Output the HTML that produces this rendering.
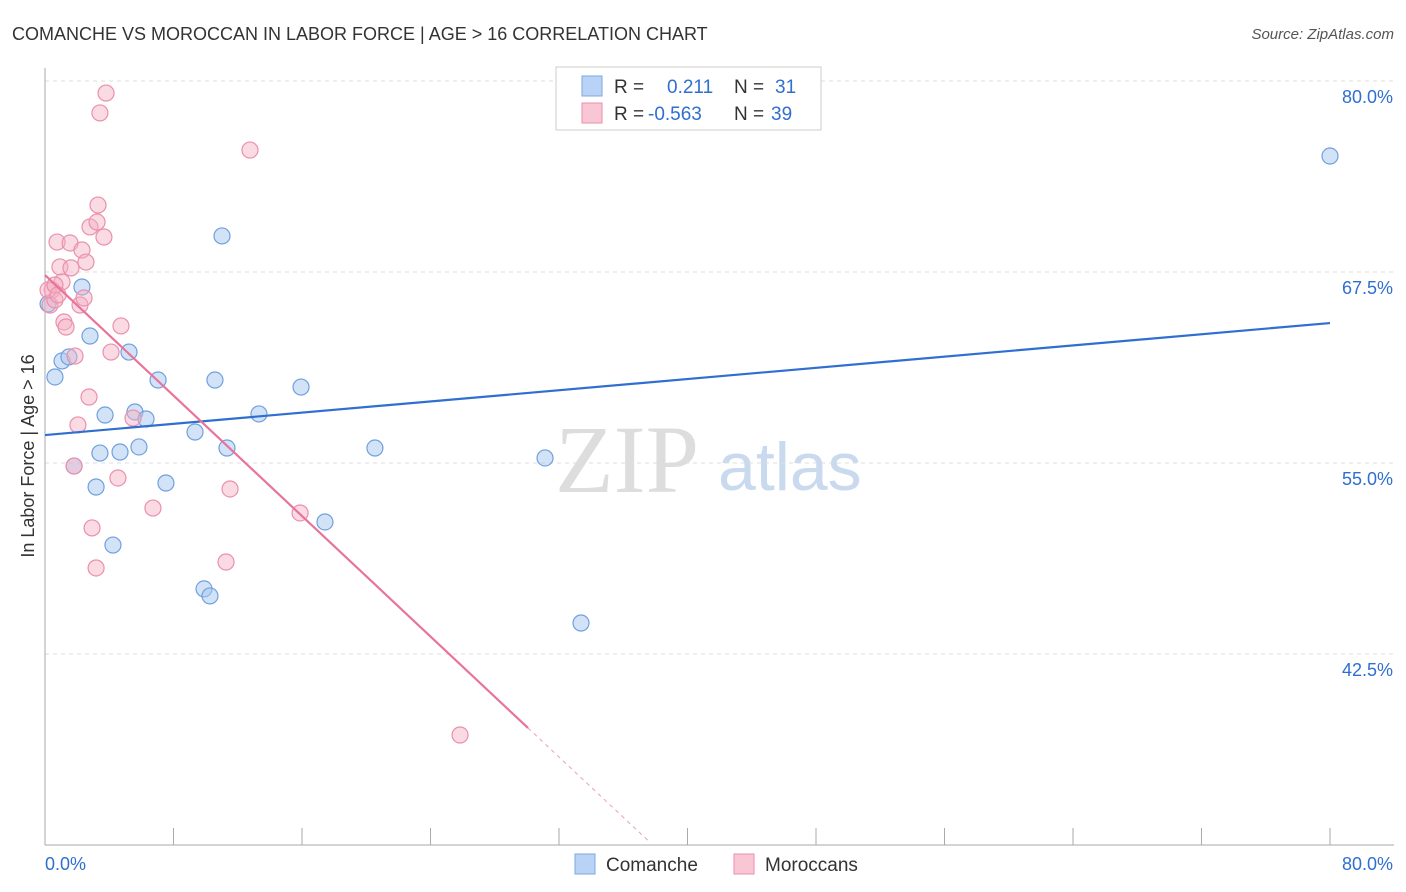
<!DOCTYPE html>
<html><head><meta charset="utf-8"><style>
body{margin:0;background:#fff;font-family:"Liberation Sans",sans-serif;}
svg{display:block}
</style></head><body>
<svg id="c" width="1406" height="892" xmlns="http://www.w3.org/2000/svg">
<text x="12" y="40" font-size="18" fill="#333">COMANCHE VS MOROCCAN IN LABOR FORCE | AGE &gt; 16 CORRELATION CHART</text>
<text x="1394" y="39" font-size="15" fill="#555" font-style="italic" text-anchor="end">Source: ZipAtlas.com</text>
<text x="34" y="456" font-size="18" fill="#333" text-anchor="middle" transform="rotate(-90 34 456)">In Labor Force | Age &gt; 16</text>
<text x="555" y="492" font-size="96" fill="#ddd" font-family="Liberation Serif,serif">ZIP</text>
<text x="718" y="490" font-size="68" fill="#c9d9ee">atlas</text>
<g id="grid"></g><g id="pts"></g><g id="lines"></g>
<rect x="556" y="67" width="265" height="63" fill="#fff" stroke="#ccc"/>
<rect x="582" y="76" width="20" height="20" fill="#b8d3f5" stroke="#7aaae0"/>
<rect x="582" y="103" width="20" height="20" fill="#f9c6d5" stroke="#eb8fac"/>
<text x="614" y="93" font-size="19" fill="#333">R = <tspan fill="#2f6fd0" x="667">0.211</tspan><tspan fill="#333" x="734">N = </tspan><tspan fill="#2f6fd0" x="775">31</tspan></text>
<text x="614" y="120" font-size="19" fill="#333">R = <tspan fill="#2f6fd0" x="648">-0.563</tspan><tspan fill="#333" x="734">N = </tspan><tspan fill="#2f6fd0" x="771">39</tspan></text>
<rect x="575" y="854" width="20" height="20" fill="#b8d3f5" stroke="#7aaae0"/>
<text x="606" y="871" font-size="19" fill="#333">Comanche</text>
<rect x="734" y="854" width="20" height="20" fill="#f9c6d5" stroke="#eb8fac"/>
<text x="765" y="871" font-size="19" fill="#333">Moroccans</text>
</svg>
<script>
const yTicks=[80,67.5,55,42.5];
const yTickLabels=["80.0%","67.5%","55.0%","42.5%"];
const xTickLabels=["0.0%","80.0%"];
const blueX=[0.19,0.62,1.06,1.49,2.30,2.80,3.74,3.42,3.18,1.81,4.23,4.67,5.23,5.60,5.85,6.29,7.04,7.53,9.34,9.90,10.27,10.58,11.02,11.33,13.32,15.94,17.43,20.54,31.13,33.37,80.0];
const blueY=[65.41,60.63,61.68,61.94,66.52,63.31,58.14,55.65,53.43,54.80,49.63,55.72,62.26,58.34,56.05,57.88,60.43,53.69,57.03,46.76,46.30,60.43,69.86,55.98,58.21,59.97,51.14,55.98,55.33,44.53,75.09];
const pinkX=[0.31,0.44,0.62,0.75,0.93,1.06,1.18,1.31,1.56,1.62,1.87,2.05,1.81,2.18,2.30,2.43,2.55,2.74,2.80,2.93,3.18,3.24,3.30,3.42,3.67,3.80,4.11,4.54,4.73,5.48,6.72,11.27,11.52,12.76,15.88,25.84,0.19,0.62,0.81];
const pinkY=[65.34,66.32,65.67,69.46,67.83,66.85,64.23,63.90,69.40,67.77,62.00,57.49,54.80,65.34,68.94,65.80,68.15,59.32,70.45,50.75,48.13,70.77,71.88,77.91,69.79,79.21,62.26,54.02,63.97,57.94,52.05,48.52,53.30,75.48,51.73,37.20,66.32,66.65,66.00];
const blueLine=[[0,56.83],[80,64.16]];
const pinkLine=[[0,67.3],[30.07,37.66]];
const pinkDash=[[30.07,37.66],[37.67,30.17]];
const NS="http://www.w3.org/2000/svg";
const X=v=>45+v/80*1285, Y=v=>81+(80-v)*15.28;
function mk(t,a,p){const e=document.createElementNS(NS,t);for(const k in a)e.setAttribute(k,a[k]);p.appendChild(e);return e;}
const g=document.getElementById('grid');
yTicks.forEach((v,i)=>{
 const l=mk('line',{x1:45,x2:1394,y1:Y(v),y2:Y(v),stroke:'#ddd','stroke-dasharray':'4,4'},g);
 
 
 const t=mk('text',{x:1393,y:Y(v)+22,'font-size':18,fill:'#2f6fd0','text-anchor':'end'},g);
 t.textContent=yTickLabels[i];
 
 
});
const ax=mk('line',{x1:45,x2:45,y1:68,y2:845,stroke:'#aaa'},g);


const bx=mk('line',{x1:45,x2:1394,y1:845,y2:845,stroke:'#aaa'},g);


for(let i=1;i<=10;i++){const tk=mk('line',{x1:X(i*8),x2:X(i*8),y1:828,y2:845,stroke:'#aaa'},g);
 
 }
[[0,45,'start'],[1,1393,'end']].forEach(([i,x,a])=>{const t=mk('text',{x:x,y:870,'font-size':18,fill:'#2f6fd0','text-anchor':a},g);t.textContent=xTickLabels[i];
 
 });
const p=document.getElementById('pts');
blueX.forEach((v,i)=>{const c=mk('circle',{cx:X(v),cy:Y(blueY[i]),r:8,fill:'rgba(168,200,240,0.5)',stroke:'#6fa0de','stroke-width':1.2},p);
 
 });
pinkX.forEach((v,i)=>{const c=mk('circle',{cx:X(v),cy:Y(pinkY[i]),r:8,fill:'rgba(245,175,196,0.45)',stroke:'#eb8fac','stroke-width':1.2},p);
 
 });
const L=document.getElementById('lines');
const b=mk('line',{x1:X(blueLine[0][0]),y1:Y(blueLine[0][1]),x2:X(blueLine[1][0]),y2:Y(blueLine[1][1]),stroke:'#2f6fd0','stroke-width':2.2},L);


const pl=mk('line',{x1:X(pinkLine[0][0]),y1:Y(pinkLine[0][1]),x2:X(pinkLine[1][0]),y2:Y(pinkLine[1][1]),stroke:'#e8739b','stroke-width':2.2},L);


const pd=mk('line',{x1:X(pinkDash[0][0]),y1:Y(pinkDash[0][1]),x2:X(pinkDash[1][0]),y2:Y(pinkDash[1][1]),stroke:'#e8a0b8','stroke-width':1,'stroke-dasharray':'4,4'},L);


</script>
</body></html>
